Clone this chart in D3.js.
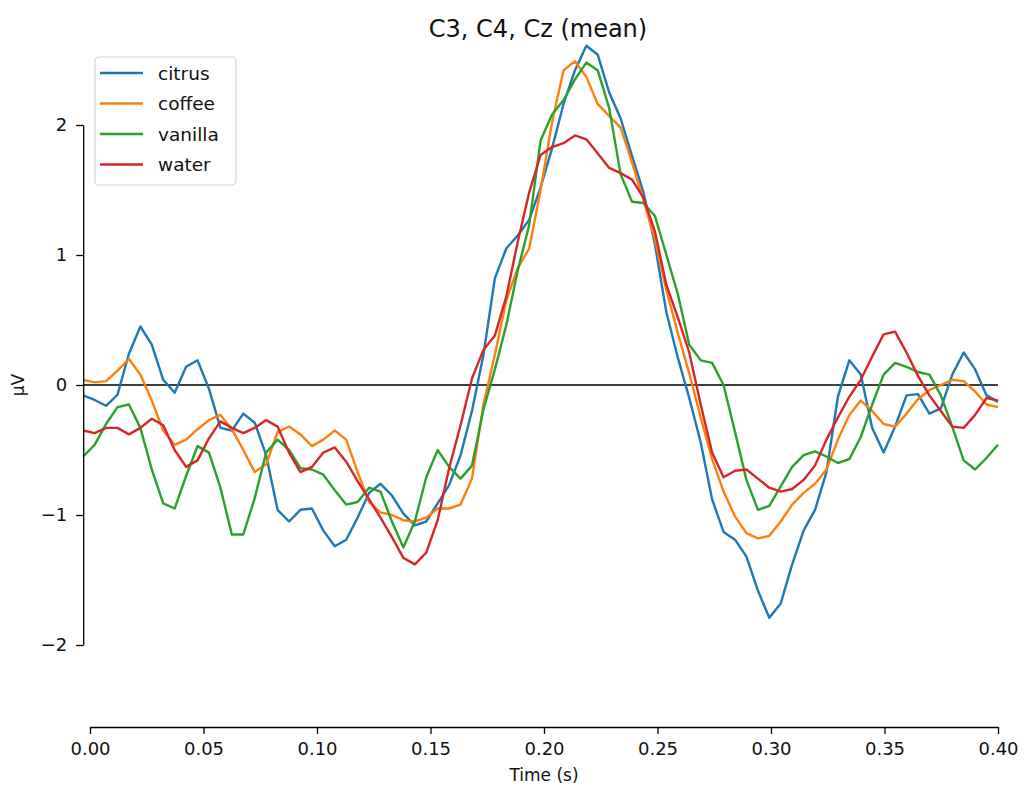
<!DOCTYPE html>
<html>
<head>
<meta charset="utf-8">
<script src="https://cdn.jsdelivr.net/npm/d3@7"></script>
<style>
  html, body { margin: 0; padding: 0; background: #fff; }
  svg { display: block; font-family: "DejaVu Sans", sans-serif; }
</style>
</head>
<body>
<svg id="chart" width="1025" height="787"></svg>
<script>
// ---- data ----
const seriesNames = ["citrus", "coffee", "vanilla", "water"];
const seriesColors = ["#1f77b4", "#ff7f0e", "#2ca02c", "#d62728"];
const xTicks = [0.00, 0.05, 0.10, 0.15, 0.20, 0.25, 0.30, 0.35, 0.40];
const yTicks = [-2, -1, 0, 1, 2];
const nSamples = 81;
const times = d3.range(nSamples).map(i => -0.003 + i * 0.403 / (nSamples - 1));

const citrus = [
  -0.08, -0.115, -0.16, -0.075, 0.24, 0.45, 0.31, 0.04, -0.06, 0.14,
  0.19, -0.03, -0.33, -0.35, -0.22, -0.29, -0.54, -0.96, -1.05, -0.96,
  -0.95, -1.12, -1.24, -1.19, -1.02, -0.83, -0.76, -0.85, -0.99, -1.08,
  -1.05, -0.91, -0.77, -0.54, -0.20, 0.23, 0.82, 1.05, 1.15, 1.27,
  1.52, 1.82, 2.16, 2.42, 2.61, 2.54, 2.25, 2.05, 1.76, 1.48,
  1.08, 0.56, 0.21, -0.10, -0.44, -0.88, -1.13, -1.19, -1.32, -1.58,
  -1.79, -1.68, -1.38, -1.12, -0.96, -0.67, -0.09, 0.19, 0.08, -0.33,
  -0.52, -0.32, -0.08, -0.07, -0.22, -0.18, 0.08, 0.25, 0.12, -0.08,
  -0.13
];
const coffee = [
  0.04, 0.02, 0.03, 0.11, 0.20, 0.08, -0.12, -0.35, -0.46, -0.42,
  -0.34, -0.27, -0.23, -0.34, -0.50, -0.67, -0.61, -0.36, -0.32, -0.38,
  -0.47, -0.42, -0.35, -0.42, -0.67, -0.90, -0.98, -1.00, -1.04, -1.05,
  -1.02, -0.95, -0.95, -0.92, -0.72, -0.15, 0.23, 0.65, 0.90, 1.05,
  1.50, 2.02, 2.42, 2.49, 2.37, 2.16, 2.07, 1.98, 1.71, 1.42,
  1.12, 0.73, 0.40, 0.09, -0.25, -0.57, -0.82, -1.01, -1.14, -1.18,
  -1.16, -1.05, -0.92, -0.83, -0.76, -0.65, -0.42, -0.23, -0.12, -0.20,
  -0.30, -0.32, -0.22, -0.11, -0.04, 0.00, 0.04, 0.03, -0.05, -0.15,
  -0.17
];
const vanilla = [
  -0.55, -0.46, -0.30, -0.17, -0.15, -0.33, -0.65, -0.91, -0.95, -0.70,
  -0.47, -0.52, -0.79, -1.15, -1.15, -0.87, -0.52, -0.42, -0.50, -0.64,
  -0.65, -0.69, -0.81, -0.92, -0.90, -0.79, -0.82, -1.05, -1.25, -1.05,
  -0.71, -0.50, -0.63, -0.72, -0.62, -0.19, 0.12, 0.46, 0.88, 1.23,
  1.88, 2.08, 2.19, 2.35, 2.48, 2.42, 2.13, 1.62, 1.41, 1.40,
  1.30, 1.00, 0.70, 0.31, 0.19, 0.17, 0.00, -0.36, -0.73, -0.96,
  -0.93, -0.78, -0.63, -0.54, -0.51, -0.55, -0.60, -0.57, -0.40, -0.15,
  0.08, 0.17, 0.14, 0.10, 0.08, -0.08, -0.32, -0.58, -0.65, -0.56,
  -0.46
];
const water = [
  -0.35, -0.37, -0.33, -0.33, -0.38, -0.33, -0.26, -0.31, -0.50, -0.63,
  -0.58, -0.41, -0.28, -0.33, -0.37, -0.33, -0.27, -0.32, -0.52, -0.67,
  -0.63, -0.52, -0.48, -0.59, -0.74, -0.88, -1.02, -1.17, -1.33, -1.38,
  -1.29, -1.04, -0.64, -0.31, 0.05, 0.27, 0.38, 0.68, 1.10, 1.48,
  1.77, 1.83, 1.86, 1.92, 1.89, 1.78, 1.67, 1.63, 1.58, 1.44,
  1.18, 0.77, 0.52, 0.25, -0.15, -0.52, -0.71, -0.66, -0.65, -0.72,
  -0.79, -0.82, -0.80, -0.73, -0.62, -0.42, -0.25, -0.09, 0.04, 0.22,
  0.39, 0.41, 0.25, 0.07, -0.08, -0.20, -0.32, -0.33, -0.23, -0.10,
  -0.12
];
const seriesValues = [citrus, coffee, vanilla, water];

// ---- layout ----
const svg = d3.select("#chart");
const x = d3.scaleLinear().domain([0, 0.4]).range([90, 998]);
const y = d3.scaleLinear().domain([-2, 2]).range([645, 125]);
const yAxisX = x(-0.003);
const xAxisY = 727;
const fmtMinus = v => (v < 0 ? "\u2212" + Math.abs(v) : String(v));

// zero line
svg.append("line")
  .attr("x1", yAxisX).attr("x2", x(0.4))
  .attr("y1", y(0)).attr("y2", y(0))
  .attr("stroke", "#000").attr("stroke-width", 1.3);

// lines
const line = d3.line().x((d, i) => x(times[i])).y(d => y(d));
seriesValues.forEach((vals, k) => {
  svg.append("path")
    .datum(vals)
    .attr("d", line)
    .attr("fill", "none")
    .attr("stroke", seriesColors[k])
    .attr("stroke-width", 2.4)
    .attr("stroke-linejoin", "round")
    .attr("stroke-linecap", "butt");
});

// y axis
const yAxis = svg.append("g")
  .attr("transform", `translate(${yAxisX},0)`)
  .call(d3.axisLeft(y).tickValues(yTicks).tickFormat(fmtMinus)
    .tickSizeOuter(0).tickSizeInner(7).tickPadding(9));
yAxis.select(".domain").attr("stroke", "#000").attr("stroke-width", 1.3);
yAxis.selectAll(".tick line").attr("stroke", "#000").attr("stroke-width", 1.3);
yAxis.selectAll(".tick text").attr("font-size", 18).attr("fill", "#111")
  .attr("font-family", "DejaVu Sans, sans-serif");

// x axis
const xAxis = svg.append("g")
  .attr("transform", `translate(0,${xAxisY})`)
  .call(d3.axisBottom(x).tickValues(xTicks).tickFormat(d3.format(".2f"))
    .tickSizeOuter(0).tickSizeInner(7).tickPadding(8));
xAxis.select(".domain").attr("stroke", "#000").attr("stroke-width", 1.3);
xAxis.selectAll(".tick line").attr("stroke", "#000").attr("stroke-width", 1.3);
xAxis.selectAll(".tick text").attr("font-size", 18).attr("fill", "#111")
  .attr("font-family", "DejaVu Sans, sans-serif");

// axis labels
svg.append("text")
  .attr("x", x(0.2)).attr("y", 781)
  .attr("text-anchor", "middle").attr("font-size", 17).attr("fill", "#111")
  .text("Time (s)");
svg.append("text")
  .attr("transform", `translate(24,${y(0)}) rotate(-90)`)
  .attr("text-anchor", "middle").attr("font-size", 17).attr("fill", "#111")
  .text("µV");

// title
svg.append("text")
  .attr("x", 538).attr("y", 37)
  .attr("text-anchor", "middle").attr("font-size", 24).attr("fill", "#111")
  .text("C3, C4, Cz (mean)");

// legend
const lg = svg.append("g").attr("transform", "translate(95,57)");
lg.append("rect")
  .attr("x", 0).attr("y", 0).attr("width", 141).attr("height", 128)
  .attr("rx", 4).attr("fill", "#fff").attr("fill-opacity", 0.8)
  .attr("stroke", "#d6d6d6").attr("stroke-width", 1.2);
seriesNames.forEach((name, k) => {
  const yy = 16 + k * 30.5;
  lg.append("line")
    .attr("x1", 5).attr("x2", 48).attr("y1", yy).attr("y2", yy)
    .attr("stroke", seriesColors[k]).attr("stroke-width", 2.4);
  lg.append("text")
    .attr("x", 63).attr("y", yy + 6.5)
    .attr("font-size", 18.5).attr("fill", "#111")
    .text(name);
});
</script>
</body>
</html>
